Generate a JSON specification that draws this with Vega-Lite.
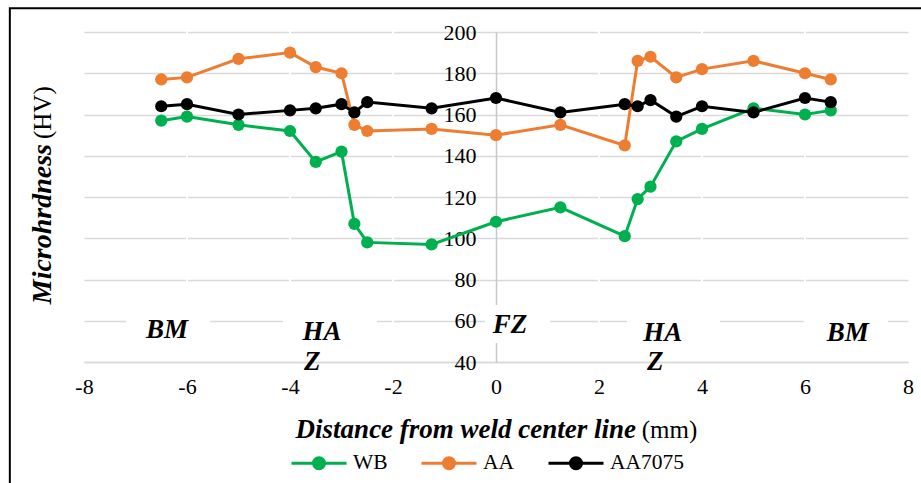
{
  "$schema": "https://vega.github.io/schema/vega-lite/v6.json",
  "width": 824,
  "height": 330,
  "autosize": {"type": "none"},
  "padding": {"left": 84, "top": 32, "right": 13, "bottom": 121},
  "background": "white",
  "config": {"view": {"stroke": null}, "font": "Liberation Serif"},
  "layer": [
    {
      "data": {"values": [{}]},
      "mark": {"type": "rect", "fill": null, "stroke": "black", "strokeWidth": 2},
      "encoding": {
        "x": {"datum": -9.44, "type": "quantitative"},
        "x2": {"datum": 9.5},
        "y": {"datum": 211.5, "type": "quantitative"},
        "y2": {"datum": -40}
      }
    },
    {
      "data": {"values": [{"t": -6}, {"t": -4}, {"t": -2}, {"t": 2}, {"t": 4}, {"t": 6}]},
      "mark": {"type": "rule", "color": "white", "strokeWidth": 2},
      "encoding": {
        "x": {"field": "t", "type": "quantitative"},
        "y": {"datum": 201, "type": "quantitative"},
        "y2": {"datum": 41}
      }
    },
    {
      "data": {"values": [{}]},
      "mark": {"type": "rect", "fill": "white"},
      "encoding": {"x": {"datum": -7.18, "type": "quantitative"}, "x2": {"datum": -5.55}, "y": {"datum": 64.2, "type": "quantitative"}, "y2": {"datum": 45.8}}
    },
    {
      "data": {"values": [{}]},
      "mark": {"type": "rect", "fill": "white"},
      "encoding": {"x": {"datum": -4.14, "type": "quantitative"}, "x2": {"datum": -2.31}, "y": {"datum": 64.2, "type": "quantitative"}, "y2": {"datum": 45.8}}
    },
    {
      "data": {"values": [{}]},
      "mark": {"type": "rect", "fill": "white"},
      "encoding": {"x": {"datum": -0.21, "type": "quantitative"}, "x2": {"datum": 1.05}, "y": {"datum": 67.6, "type": "quantitative"}, "y2": {"datum": 49.2}}
    },
    {
      "data": {"values": [{}]},
      "mark": {"type": "rect", "fill": "white"},
      "encoding": {"x": {"datum": 2.54, "type": "quantitative"}, "x2": {"datum": 4.35}, "y": {"datum": 64.2, "type": "quantitative"}, "y2": {"datum": 45.8}}
    },
    {
      "data": {"values": [{}]},
      "mark": {"type": "rect", "fill": "white"},
      "encoding": {"x": {"datum": 6.0, "type": "quantitative"}, "x2": {"datum": 7.61}, "y": {"datum": 64.2, "type": "quantitative"}, "y2": {"datum": 45.8}}
    },
    {
      "data": {
        "values": [
          {"series": "WB", "distance": -6.5, "hv": 157},
          {"series": "WB", "distance": -6, "hv": 159},
          {"series": "WB", "distance": -5, "hv": 155},
          {"series": "WB", "distance": -4, "hv": 152},
          {"series": "WB", "distance": -3.5, "hv": 137},
          {"series": "WB", "distance": -3, "hv": 142},
          {"series": "WB", "distance": -2.75, "hv": 107},
          {"series": "WB", "distance": -2.5, "hv": 98},
          {"series": "WB", "distance": -1.25, "hv": 97},
          {"series": "WB", "distance": 0, "hv": 108},
          {"series": "WB", "distance": 1.25, "hv": 115},
          {"series": "WB", "distance": 2.5, "hv": 101},
          {"series": "WB", "distance": 2.75, "hv": 119},
          {"series": "WB", "distance": 3, "hv": 125},
          {"series": "WB", "distance": 3.5, "hv": 147},
          {"series": "WB", "distance": 4, "hv": 153},
          {"series": "WB", "distance": 5, "hv": 163},
          {"series": "WB", "distance": 6, "hv": 160},
          {"series": "WB", "distance": 6.5, "hv": 162},
          {"series": "AA", "distance": -6.5, "hv": 177},
          {"series": "AA", "distance": -6, "hv": 178},
          {"series": "AA", "distance": -5, "hv": 187},
          {"series": "AA", "distance": -4, "hv": 190},
          {"series": "AA", "distance": -3.5, "hv": 183},
          {"series": "AA", "distance": -3, "hv": 180},
          {"series": "AA", "distance": -2.75, "hv": 155},
          {"series": "AA", "distance": -2.5, "hv": 152},
          {"series": "AA", "distance": -1.25, "hv": 153},
          {"series": "AA", "distance": 0, "hv": 150},
          {"series": "AA", "distance": 1.25, "hv": 155},
          {"series": "AA", "distance": 2.5, "hv": 145},
          {"series": "AA", "distance": 2.75, "hv": 186},
          {"series": "AA", "distance": 3, "hv": 188},
          {"series": "AA", "distance": 3.5, "hv": 178},
          {"series": "AA", "distance": 4, "hv": 182},
          {"series": "AA", "distance": 5, "hv": 186},
          {"series": "AA", "distance": 6, "hv": 180},
          {"series": "AA", "distance": 6.5, "hv": 177},
          {"series": "AA7075", "distance": -6.5, "hv": 164},
          {"series": "AA7075", "distance": -6, "hv": 165},
          {"series": "AA7075", "distance": -5, "hv": 160},
          {"series": "AA7075", "distance": -4, "hv": 162},
          {"series": "AA7075", "distance": -3.5, "hv": 163},
          {"series": "AA7075", "distance": -3, "hv": 165},
          {"series": "AA7075", "distance": -2.75, "hv": 161},
          {"series": "AA7075", "distance": -2.5, "hv": 166},
          {"series": "AA7075", "distance": -1.25, "hv": 163},
          {"series": "AA7075", "distance": 0, "hv": 168},
          {"series": "AA7075", "distance": 1.25, "hv": 161},
          {"series": "AA7075", "distance": 2.5, "hv": 165},
          {"series": "AA7075", "distance": 2.75, "hv": 164},
          {"series": "AA7075", "distance": 3, "hv": 167},
          {"series": "AA7075", "distance": 3.5, "hv": 159},
          {"series": "AA7075", "distance": 4, "hv": 164},
          {"series": "AA7075", "distance": 5, "hv": 161},
          {"series": "AA7075", "distance": 6, "hv": 168},
          {"series": "AA7075", "distance": 6.5, "hv": 166}
        ]
      },
      "mark": {"type": "line", "strokeWidth": 3, "point": {"filled": true, "size": 150}},
      "encoding": {
        "x": {
          "field": "distance",
          "type": "quantitative",
          "scale": {"domain": [-8, 8], "nice": false, "zero": false},
          "axis": {
            "title": null,
            "values": [-8, -6, -4, -2, 0, 2, 4, 6, 8],
            "grid": false,
            "ticks": false,
            "domainColor": "#D9D9D9",
            "domainWidth": 1.5,
            "labelFont": "Liberation Serif",
            "labelFontSize": 22,
            "labelColor": "black",
            "labelPadding": 14,
            "labelFlush": false,
            "labelOverlap": false,
            "labelExpr": "'' + datum.value"
          }
        },
        "y": {
          "field": "hv",
          "type": "quantitative",
          "scale": {"domain": [40, 200], "nice": false, "zero": false},
          "axis": {
            "title": null,
            "values": [40, 60, 80, 100, 120, 140, 160, 180, 200],
            "grid": true,
            "gridColor": "#D9D9D9",
            "gridWidth": 1.5,
            "ticks": false,
            "domainColor": "#C8C8C8",
            "domainWidth": 1.5,
            "offset": -412,
            "labelFont": "Liberation Serif",
            "labelFontSize": 22,
            "labelColor": "black",
            "labelPadding": 20,
            "labelFlush": false,
            "labelOverlap": false
          }
        },
        "color": {
          "field": "series",
          "type": "nominal",
          "scale": {"domain": ["WB", "AA", "AA7075"], "range": ["#00B050", "#ED7D31", "#000000"]},
          "legend": {
            "title": null,
            "orient": "none",
            "legendX": 206,
            "legendY": 402,
            "direction": "horizontal",
            "symbolType": "M-1,0H1M-0.2,0A0.2,0.2,0,1,1,0.2,0A0.2,0.2,0,1,1,-0.2,0Z",
            "symbolSize": 3025,
            "symbolStrokeWidth": 3,
            "labelFont": "Liberation Serif",
            "labelFontSize": 21.5,
            "labelColor": "black",
            "labelOffset": 5,
            "columnPadding": 27,
            "encode": {"symbols": {"update": {"fill": {"scale": "color", "field": "value"}}}}
          }
        }
      }
    },
    {
      "data": {"values": [{}]},
      "mark": {"type": "text", "text": "BM", "font": "Liberation Serif", "fontSize": 27, "fontStyle": "italic", "fontWeight": "bold", "baseline": "middle", "align": "center"},
      "encoding": {"x": {"datum": -6.39, "type": "quantitative"}, "y": {"datum": 55.5, "type": "quantitative"}}
    },
    {
      "data": {"values": [{}]},
      "mark": {"type": "text", "text": "HA", "font": "Liberation Serif", "fontSize": 27, "fontStyle": "italic", "fontWeight": "bold", "baseline": "middle", "align": "center"},
      "encoding": {"x": {"datum": -3.38, "type": "quantitative"}, "y": {"datum": 54.5, "type": "quantitative"}}
    },
    {
      "data": {"values": [{}]},
      "mark": {"type": "text", "text": "Z", "font": "Liberation Serif", "fontSize": 27, "fontStyle": "italic", "fontWeight": "bold", "baseline": "middle", "align": "center"},
      "encoding": {"x": {"datum": -3.57, "type": "quantitative"}, "y": {"datum": 40, "type": "quantitative"}}
    },
    {
      "data": {"values": [{}]},
      "mark": {"type": "text", "text": "FZ", "font": "Liberation Serif", "fontSize": 27, "fontStyle": "italic", "fontWeight": "bold", "baseline": "middle", "align": "center"},
      "encoding": {"x": {"datum": 0.27, "type": "quantitative"}, "y": {"datum": 57.9, "type": "quantitative"}}
    },
    {
      "data": {"values": [{}]},
      "mark": {"type": "text", "text": "HA", "font": "Liberation Serif", "fontSize": 27, "fontStyle": "italic", "fontWeight": "bold", "baseline": "middle", "align": "center"},
      "encoding": {"x": {"datum": 3.24, "type": "quantitative"}, "y": {"datum": 54.1, "type": "quantitative"}}
    },
    {
      "data": {"values": [{}]},
      "mark": {"type": "text", "text": "Z", "font": "Liberation Serif", "fontSize": 27, "fontStyle": "italic", "fontWeight": "bold", "baseline": "middle", "align": "center"},
      "encoding": {"x": {"datum": 3.09, "type": "quantitative"}, "y": {"datum": 40, "type": "quantitative"}}
    },
    {
      "data": {"values": [{}]},
      "mark": {"type": "text", "text": "BM", "font": "Liberation Serif", "fontSize": 27, "fontStyle": "italic", "fontWeight": "bold", "baseline": "middle", "align": "center"},
      "encoding": {"x": {"datum": 6.83, "type": "quantitative"}, "y": {"datum": 54.1, "type": "quantitative"}}
    },
    {
      "data": {"values": [{}]},
      "mark": {"type": "text", "text": "Distance from weld center line", "font": "Liberation Serif", "fontSize": 27, "fontStyle": "italic", "fontWeight": "bold", "baseline": "middle", "align": "right"},
      "encoding": {"x": {"datum": 2.72, "type": "quantitative"}, "y": {"datum": 7.0, "type": "quantitative"}}
    },
    {
      "data": {"values": [{}]},
      "mark": {"type": "text", "text": "(mm)", "font": "Liberation Serif", "fontSize": 25, "baseline": "middle", "align": "left"},
      "encoding": {"x": {"datum": 2.83, "type": "quantitative"}, "y": {"datum": 7.0, "type": "quantitative"}}
    },
    {
      "data": {"values": [{}]},
      "mark": {"type": "text", "text": "Microhrdness", "font": "Liberation Serif", "fontSize": 28, "fontStyle": "italic", "fontWeight": "bold", "baseline": "middle", "align": "right", "angle": 270},
      "encoding": {"x": {"datum": -8.8, "type": "quantitative"}, "y": {"datum": 145.7, "type": "quantitative"}}
    },
    {
      "data": {"values": [{}]},
      "mark": {"type": "text", "text": "(HV)", "font": "Liberation Serif", "fontSize": 25, "baseline": "middle", "align": "left", "angle": 270},
      "encoding": {"x": {"datum": -8.8, "type": "quantitative"}, "y": {"datum": 148.1, "type": "quantitative"}}
    }
  ]
}
